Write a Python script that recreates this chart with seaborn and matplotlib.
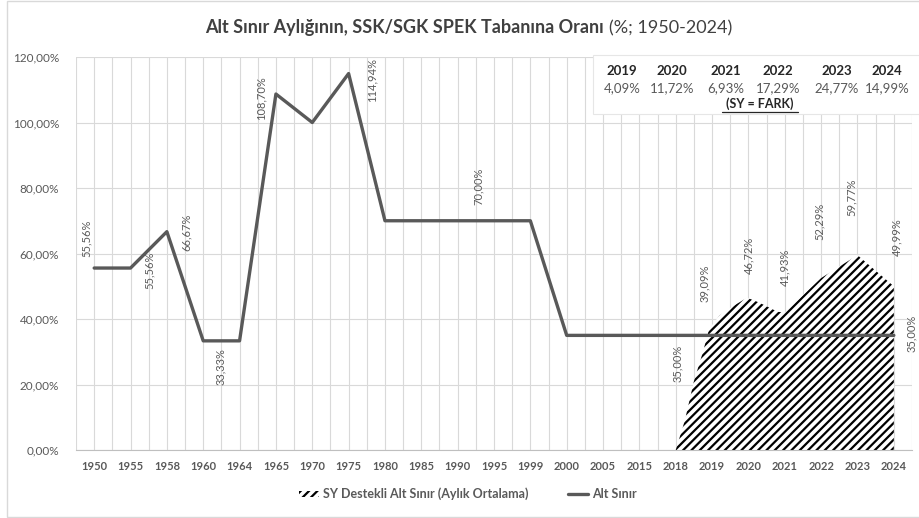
import pandas as pd
import seaborn as sns
import matplotlib.pyplot as plt
from matplotlib.patches import Rectangle, Patch
from matplotlib.lines import Line2D
from matplotlib.ticker import FixedLocator, FuncFormatter

# Yearly categories and the "Alt Sınır" line (%)
years = ['1950', '1955', '1958', '1960', '1964', '1965', '1970', '1975', '1980',
         '1985', '1990', '1995', '1999', '2000', '2005', '2015', '2018', '2019',
         '2020', '2021', '2022', '2023', '2024']
alt_sinir = [55.56, 55.56, 66.67, 33.33, 33.33, 108.70, 100.00, 114.94, 70.00,
             70.00, 70.00, 70.00, 70.00, 35.00, 35.00, 35.00, 35.00, 35.00,
             35.00, 35.00, 35.00, 35.00, 35.00]

# SY destekli alt sınır, monthly average shape (decimal year, %)
sy_time = [2018.0, 2018.25, 2018.5, 2018.75, 2018.92, 2019.2, 2019.4, 2019.96,
           2020.3, 2020.8, 2021.0, 2022.0, 2023.0, 2024.0]
sy_value = [0.0, 9.0, 21.0, 30.0, 37.0, 41.0, 42.7, 46.5,
            45.0, 42.2, 42.0, 52.5, 59.5, 50.0]

# Yearly averages of the SY series (labels + table)
sy_years = ['2019', '2020', '2021', '2022', '2023', '2024']
sy_avg = [39.09, 46.72, 41.93, 52.29, 59.77, 49.99]

GRAY = '#595959'
GRID = '#d9d9d9'

sns.set_style('white')
plt.rcParams['font.family'] = ['Lato', 'DejaVu Sans']
plt.rcParams['hatch.linewidth'] = 1.6


def pct(v):
    return f'{v:.2f}%'.replace('.', ',')


df_line = pd.DataFrame({'pos': range(len(years)), 'year': years, 'value': alt_sinir})
base = years.index('2018')
df_sy = pd.DataFrame({'pos': [base + (t - 2018) for t in sy_time], 'value': sy_value})

fig = plt.figure(figsize=(9.2, 5.18), dpi=100)
ax = fig.add_axes([76 / 920, 1 - 450 / 518, 836 / 920, 393 / 518])

# hatched area
ax.fill_between(df_sy['pos'], 0, df_sy['value'], facecolor='white',
                edgecolor='black', hatch='////', linewidth=0, zorder=2)

# line
sns.lineplot(data=df_line, x='pos', y='value', color=GRAY, linewidth=2.4,
             ax=ax, zorder=3, legend=False)

ax.set_xlim(-0.5, len(years) - 0.5)
ax.set_ylim(0, 120)
ax.set_xlabel('')
ax.set_ylabel('')

# grid: category centers and boundaries
n = len(years)
ax.xaxis.set_major_locator(FixedLocator(list(range(n))))
ax.xaxis.set_minor_locator(FixedLocator([i - 0.5 for i in range(n + 1)]))
ax.set_xticklabels(years)
ax.set_yticks([0, 20, 40, 60, 80, 100, 120])
ax.yaxis.set_major_formatter(FuncFormatter(lambda v, p: pct(v)))
ax.grid(True, which='both', axis='x', color=GRID, linewidth=0.8, zorder=0)
ax.grid(True, which='major', axis='y', color=GRID, linewidth=0.8, zorder=0)
ax.set_axisbelow(True)
for s in ['top', 'right', 'left']:
    ax.spines[s].set_visible(False)
ax.spines['bottom'].set_color('#bfbfbf')
ax.tick_params(axis='x', which='major', length=0, pad=8, labelsize=8,
               labelcolor=GRAY)
ax.tick_params(axis='x', which='minor', length=4, color='#bfbfbf', direction='out')
ax.tick_params(axis='y', length=0, pad=12, labelsize=8.5, labelcolor=GRAY)
for lbl in ax.get_xticklabels():
    lbl.set_fontweight('bold')

# data labels on the line (point index, dx, dy in pixels)
line_labels = [(0, -8, 30), (1, 19, -2), (2, 19, -1), (3, 17, -26), (5, -15, -4),
               (7, 23, -6), (10, 21, 34), (16, 2, -28), (22, 18, 2)]
for i, dx, dy in line_labels:
    ax.annotate(pct(alt_sinir[i]), (i, alt_sinir[i]), xytext=(dx, dy),
                textcoords='offset pixels', rotation=90, ha='center', va='center',
                fontsize=8, color=GRAY)

# data labels on the SY averages
sy_offsets = [(-8, 39), (0, 42), (0, 45), (-2, 57), (-6, 57), (3, 49)]
for yr, v, (dx, dy) in zip(sy_years, sy_avg, sy_offsets):
    ax.annotate(pct(v), (years.index(yr), v), xytext=(dx, dy),
                textcoords='offset pixels', rotation=90, ha='center', va='center',
                fontsize=8, color=GRAY)

# difference table (SY - Alt Sınır)
fig.add_artist(Rectangle((593 / 920, 1 - 114 / 518), 330 / 920, 59 / 518,
                         transform=fig.transFigure, facecolor='white',
                         edgecolor='#e6e6e6', linewidth=0.8, zorder=5))
col_x = [622, 672, 726, 778, 837, 887]
for cx, yr, v in zip(col_x, sy_years, sy_avg):
    diff = v - alt_sinir[years.index(yr)]
    fig.text(cx / 920, 1 - 71 / 518, yr, ha='center', va='center', fontsize=9.5,
             fontweight='bold', color='#262626', zorder=6)
    fig.text(cx / 920, 1 - 88 / 518, pct(diff), ha='center', va='center',
             fontsize=9.5, color=GRAY, zorder=6)
fig.text(760 / 920, 1 - 104 / 518, '(SY = FARK)', ha='center', va='center',
         fontsize=9, fontweight='bold', color='#262626', zorder=6)
fig.add_artist(Line2D([722 / 920, 798 / 920], [1 - 112 / 518, 1 - 112 / 518],
                      transform=fig.transFigure, color='#262626', linewidth=0.9,
                      zorder=6))

# title
fig.text(604 / 920, 1 - 28 / 518, 'Alt Sınır Aylığının, SSK/SGK SPEK Tabanına Oranı',
         ha='right', va='center', fontsize=13, fontweight='bold', color='#404040')
fig.text(609 / 920, 1 - 28 / 518, '(%; 1950-2024)', ha='left', va='center',
         fontsize=13, color='#404040')

# legend
handles = [Patch(facecolor='white', edgecolor='black', hatch='////', linewidth=0,
                 label='SY Destekli Alt Sınır (Aylık Ortalama)'),
           Line2D([0], [0], color=GRAY, linewidth=2.4, label='Alt Sınır')]
leg = fig.legend(handles=handles, loc='center', bbox_to_anchor=(468 / 920, 1 - 494 / 518),
                 ncol=2, frameon=False, fontsize=9, handlelength=1.6,
                 handleheight=0.4, handletextpad=0.3, columnspacing=3.2)
for t in leg.get_texts():
    t.set_color(GRAY)
    t.set_fontweight('bold')

# chart border
fig.add_artist(Rectangle((7 / 920, 1 / 518), 920 / 920, 516 / 518,
                         transform=fig.transFigure, fill=False,
                         edgecolor=GRID, linewidth=1))

fig.savefig('out.png', dpi=100)
